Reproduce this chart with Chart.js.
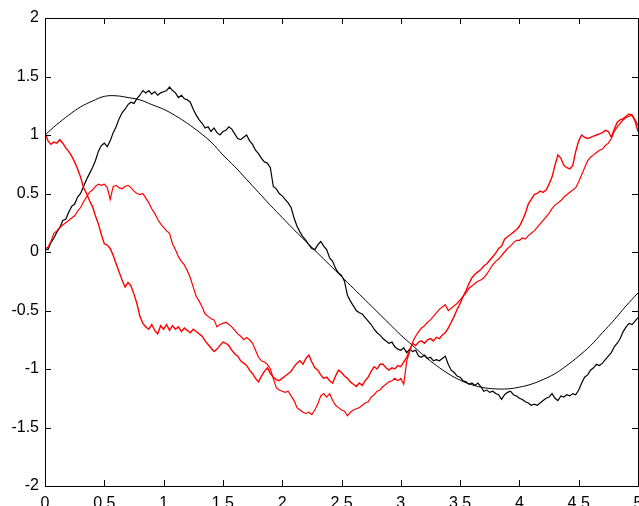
<!DOCTYPE html>
<html>
<head>
<meta charset="utf-8">
<script src="https://cdn.jsdelivr.net/npm/chart.js@4"></script>
<style>
  html, body { margin: 0; padding: 0; background: #fff; }
  canvas { display: block; }
</style>
</head>
<body>
<canvas id="chart" width="639" height="506"></canvas>
<script>
/* =========================
   DATOS
   ========================= */

// eje x: muestras cada 0.025 para las trayectorias, cada 0.1 para la curva suave
const walkStep   = 0.025;
const smoothStep = 0.1;

const xTicks = [0, 0.5, 1, 1.5, 2, 2.5, 3, 3.5, 4, 4.5, 5];
const yTicks = [-2, -1.5, -1, -0.5, 0, 0.5, 1, 1.5, 2];

// curva suave (negra, fina)
const smoothCurve = [
  1.00, 1.09, 1.17, 1.24, 1.29, 1.33, 1.335, 1.32, 1.30, 1.26,
  1.22, 1.165, 1.10, 1.025, 0.94, 0.83, 0.73, 0.62, 0.51, 0.40,
  0.295, 0.19, 0.09, -0.01, -0.11, -0.21, -0.31, -0.41, -0.51, -0.61,
  -0.71, -0.80, -0.89, -0.97, -1.04, -1.095, -1.135, -1.16, -1.17, -1.17,
  -1.155, -1.13, -1.09, -1.04, -0.97, -0.89, -0.80, -0.69, -0.58, -0.46,
  -0.35
];

// trayectoria negra con ruido
const blackWalk = [
  0.03, 0.02, 0.08, 0.12, 0.17, 0.21, 0.27, 0.28, 0.34, 0.39,
  0.41, 0.47, 0.50, 0.56, 0.62, 0.67, 0.72, 0.78, 0.86, 0.91,
  0.93, 0.90, 0.95, 1.02, 1.07, 1.14, 1.19, 1.22, 1.26, 1.28,
  1.27, 1.31, 1.34, 1.38, 1.36, 1.38, 1.35, 1.37, 1.34, 1.36,
  1.37, 1.38, 1.41, 1.38, 1.36, 1.32, 1.34, 1.31, 1.30, 1.28,
  1.22, 1.17, 1.13, 1.10, 1.06, 1.07, 1.03, 1.06, 1.02, 1.00,
  1.03, 1.04, 1.07, 1.05, 1.01, 0.97, 0.96, 0.98, 1.00, 0.95,
  0.92, 0.87, 0.84, 0.80, 0.77, 0.76, 0.72, 0.56, 0.54, 0.50,
  0.48, 0.45, 0.42, 0.38, 0.29, 0.22, 0.17, 0.13, 0.10, 0.06,
  0.03, 0.02, 0.06, 0.09, 0.05, 0.02, -0.05, -0.08, -0.14, -0.18,
  -0.20, -0.25, -0.37, -0.42, -0.46, -0.50, -0.52, -0.53, -0.56, -0.59,
  -0.62, -0.66, -0.69, -0.71, -0.74, -0.76, -0.78, -0.77, -0.81, -0.83,
  -0.84, -0.82, -0.86, -0.83, -0.85, -0.84, -0.89, -0.90, -0.88, -0.91,
  -0.90, -0.93, -0.92, -0.93, -0.91, -0.89, -0.96, -1.01, -1.03, -1.06,
  -1.07, -1.10, -1.11, -1.13, -1.12, -1.14, -1.12, -1.15, -1.19, -1.18,
  -1.20, -1.19, -1.21, -1.22, -1.26, -1.22, -1.20, -1.19, -1.22, -1.23,
  -1.25, -1.26, -1.28, -1.29, -1.31, -1.30, -1.31, -1.29, -1.27, -1.25,
  -1.24, -1.21, -1.25, -1.27, -1.23, -1.24, -1.22, -1.23, -1.21, -1.22,
  -1.18, -1.12, -1.07, -1.05, -1.01, -0.99, -0.96, -0.97, -0.95, -0.92,
  -0.89, -0.86, -0.81, -0.78, -0.74, -0.68, -0.64, -0.61, -0.62, -0.59,
  -0.56
];

// trayectoria roja que parte de 1
const redWalkA = [
  1.02, 0.95, 0.92, 0.94, 0.93, 0.96, 0.93, 0.89, 0.86, 0.82,
  0.77, 0.71, 0.64, 0.55, 0.50, 0.44, 0.39, 0.31, 0.24, 0.15,
  0.07, 0.06, 0.03, -0.03, -0.10, -0.17, -0.24, -0.30, -0.26, -0.29,
  -0.36, -0.44, -0.55, -0.61, -0.64, -0.66, -0.62, -0.67, -0.70, -0.63,
  -0.66, -0.62, -0.67, -0.63, -0.66, -0.64, -0.68, -0.65, -0.67, -0.69,
  -0.66, -0.68, -0.70, -0.72, -0.76, -0.79, -0.82, -0.85, -0.83, -0.80,
  -0.77, -0.78, -0.80, -0.84, -0.87, -0.89, -0.93, -0.95, -0.97, -1.01,
  -1.04, -1.08, -1.11, -1.06, -1.02, -0.99, -1.04, -1.07, -1.09, -1.10,
  -1.08, -1.06, -1.04, -1.02, -0.98, -0.95, -0.93, -0.96, -0.91, -0.88,
  -0.94, -0.99, -1.01, -1.05, -1.08, -1.07, -1.10, -1.12, -1.06, -1.01,
  -1.03, -1.06, -1.08, -1.11, -1.13, -1.15, -1.12, -1.14, -1.10, -1.07,
  -1.02, -0.98, -1.00, -0.96, -0.96, -0.99, -1.01, -0.99, -1.00, -0.97,
  -0.98, -0.94, -0.90, -0.84, -0.78, -0.80, -0.77, -0.76, -0.78, -0.75,
  -0.74, -0.76, -0.73, -0.74, -0.71, -0.69, -0.65, -0.60, -0.55, -0.49,
  -0.44, -0.38, -0.33, -0.27, -0.22, -0.19, -0.17, -0.15, -0.12, -0.10,
  -0.07, -0.04, -0.01, 0.03, 0.05, 0.11, 0.13, 0.15, 0.17, 0.19,
  0.22, 0.27, 0.33, 0.41, 0.45, 0.49, 0.50, 0.52, 0.51, 0.53,
  0.58, 0.64, 0.74, 0.83, 0.80, 0.74, 0.72, 0.71, 0.74, 0.86,
  0.95, 1.00, 0.98, 0.97, 0.98, 0.99, 1.00, 1.01, 1.02, 1.04,
  1.03, 0.98, 1.05, 1.11, 1.13, 1.14, 1.16, 1.18, 1.17, 1.12,
  1.03
];

// trayectoria roja que parte de 0
const redWalkB = [
  0.03, 0.04, 0.09, 0.16, 0.18, 0.21, 0.23, 0.25, 0.27, 0.29,
  0.31, 0.35, 0.38, 0.43, 0.47, 0.51, 0.53, 0.56, 0.58, 0.57,
  0.58, 0.55, 0.45, 0.56, 0.57, 0.55, 0.54, 0.56, 0.57, 0.55,
  0.52, 0.50, 0.49, 0.50, 0.46, 0.42, 0.37, 0.33, 0.28, 0.24,
  0.21, 0.18, 0.16, 0.07, 0.02, -0.04, -0.08, -0.11, -0.16, -0.22,
  -0.30, -0.38, -0.42, -0.47, -0.53, -0.55, -0.57, -0.58, -0.64, -0.62,
  -0.61, -0.60, -0.62, -0.64, -0.67, -0.70, -0.72, -0.75, -0.73, -0.75,
  -0.78, -0.84, -0.90, -0.93, -0.94, -0.96, -1.00, -1.08, -1.16, -1.18,
  -1.19, -1.20, -1.19, -1.23, -1.27, -1.33, -1.35, -1.37, -1.38, -1.37,
  -1.39, -1.35, -1.30, -1.23, -1.21, -1.24, -1.21, -1.27, -1.31, -1.33,
  -1.35, -1.36, -1.40, -1.37, -1.35, -1.34, -1.33, -1.31, -1.29, -1.28,
  -1.24, -1.22, -1.19, -1.18, -1.15, -1.13, -1.11, -1.10, -1.08, -1.10,
  -1.08, -1.13, -0.93, -0.85, -0.77, -0.72, -0.68, -0.65, -0.63, -0.60,
  -0.58, -0.55, -0.52, -0.49, -0.47, -0.45, -0.50, -0.48, -0.46, -0.44,
  -0.41, -0.38, -0.35, -0.31, -0.29, -0.27, -0.25, -0.24, -0.22, -0.19,
  -0.15, -0.11, -0.08, -0.06, -0.03, 0.00, 0.03, 0.05, 0.08, 0.10,
  0.10, 0.12, 0.11, 0.14, 0.16, 0.18, 0.21, 0.24, 0.27, 0.30,
  0.33, 0.37, 0.40, 0.42, 0.44, 0.47, 0.49, 0.51, 0.53, 0.55,
  0.60, 0.66, 0.72, 0.78, 0.81, 0.83, 0.85, 0.87, 0.88, 0.91,
  0.93, 0.97, 1.03, 1.07, 1.10, 1.13, 1.15, 1.16, 1.17, 1.13,
  1.08
];

/* =========================
   GRAFICO
   ========================= */

Chart.defaults.font.family = "'Liberation Sans', Arial, sans-serif";
Chart.defaults.font.size = 16;
Chart.defaults.color = "#000";

const toPoints = (values, step) => values.map((v, i) => ({ x: +(i * step).toFixed(3), y: v }));

// marco completo y marcas hacia adentro en los cuatro lados
const boxTicks = {
  id: 'boxTicks',
  afterDatasetsDraw(chart) {
    const { ctx, chartArea: a, scales: { x, y } } = chart;
    const len = 6;
    ctx.save();
    ctx.strokeStyle = '#000';
    ctx.lineWidth = 1;
    ctx.beginPath();
    ctx.rect(a.left + 0.5, a.top + 0.5, a.right - a.left, a.bottom - a.top);
    xTicks.forEach(v => {
      const px = Math.round(x.getPixelForValue(v)) + 0.5;
      ctx.moveTo(px, a.bottom); ctx.lineTo(px, a.bottom - len);
      ctx.moveTo(px, a.top);    ctx.lineTo(px, a.top + len);
    });
    yTicks.forEach(v => {
      const py = Math.round(y.getPixelForValue(v)) + 0.5;
      ctx.moveTo(a.left, py);  ctx.lineTo(a.left + len, py);
      ctx.moveTo(a.right, py); ctx.lineTo(a.right - len, py);
    });
    ctx.stroke();
    ctx.restore();
  }
};

const ctx = document.getElementById('chart').getContext('2d');
new Chart(ctx, {
  type: 'line',
  data: {
    datasets: [
      { data: toPoints(redWalkA, walkStep),  borderColor: '#ff0000', borderWidth: 1.4 },
      { data: toPoints(redWalkB, walkStep),  borderColor: '#ff0000', borderWidth: 1.2 },
      { data: toPoints(blackWalk, walkStep), borderColor: '#000',    borderWidth: 1.2 },
      { data: toPoints(smoothCurve, smoothStep), borderColor: '#000', borderWidth: 1, tension: 0.4 }
    ]
  },
  options: {
    responsive: false,
    animation: false,
    layout: { padding: { top: 18, right: 1, left: 0, bottom: 0 } },
    elements: { point: { radius: 0 }, line: { tension: 0 } },
    plugins: { legend: { display: false }, tooltip: { enabled: false } },
    scales: {
      x: {
        type: 'linear', min: 0, max: 5,
        grid: { drawOnChartArea: false, drawTicks: false },
        border: { display: false },
        ticks: { padding: 8, maxRotation: 0, callback: v => String(v) },
        afterBuildTicks: s => { s.ticks = xTicks.map(v => ({ value: v })); },
        afterFit: s => { s.height = 20; s.paddingLeft = 0; s.paddingRight = 0; }
      },
      y: {
        min: -2, max: 2,
        grid: { drawOnChartArea: false, drawTicks: false },
        border: { display: false },
        ticks: { padding: 6, callback: v => String(v) },
        afterBuildTicks: s => { s.ticks = yTicks.map(v => ({ value: v })); },
        afterFit: s => { s.width = 45; s.paddingTop = 0; s.paddingBottom = 0; }
      }
    }
  },
  plugins: [boxTicks]
});
</script>
</body>
</html>
